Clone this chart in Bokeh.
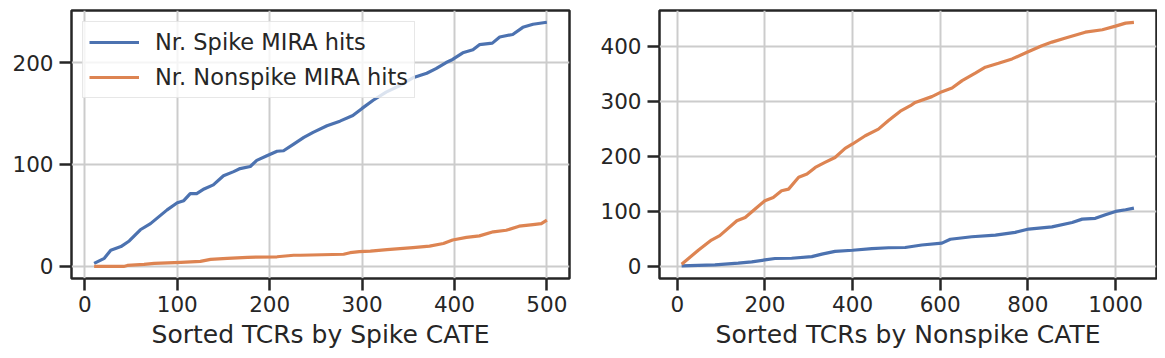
from bokeh.plotting import figure
from bokeh.layouts import row
from bokeh.models import Range1d, FixedTicker, Legend, LegendItem
from bokeh.embed import file_html
from bokeh.resources import INLINE

# ---- data ----
left_spike_x = [10, 21, 28, 39, 48, 60, 71, 89, 100, 107, 114, 121, 129, 139, 150, 161, 168, 179, 186, 197,
                208, 215, 226, 237, 247, 262, 276, 290, 300, 312, 326, 341, 355, 370, 380, 391, 398, 409,
                420, 427, 441, 449, 463, 474, 485, 500]
left_spike_y = [3, 8, 16, 19.5, 25, 36, 42, 55.5, 62.5, 64.5, 71.5, 71.5, 76, 80, 89, 93, 96, 98, 104, 108.5,
                113, 113.5, 120, 126.5, 131.5, 138, 142.5, 148, 155, 163, 171, 177.5, 185, 189.5, 194, 200,
                203, 209.5, 212.5, 217.5, 219, 225, 227.5, 234.5, 237.5, 239.5]
left_nonspike_x = [10, 42, 46, 64, 75, 104, 125, 136, 154, 176, 208, 226, 233, 280, 287, 297, 309, 327, 355,
                   373, 388, 398, 413, 427, 442, 456, 470, 485, 494, 500]
left_nonspike_y = [0, 0, 1, 2, 3, 4, 5, 7, 8, 9, 9.5, 11, 11, 12, 13.5, 14.5, 15, 16.5, 18.5, 20, 22.5, 26,
                   28.5, 30, 34, 35.5, 39.5, 41, 42, 45.5]

right_nonspike_x = [10, 48, 78, 97, 136, 155, 177, 200, 219, 238, 254, 277, 296, 315, 337, 360, 383, 400,
                    429, 459, 482, 509, 532, 543, 581, 604, 627, 650, 680, 703, 733, 764, 798, 832, 855,
                    886, 931, 970, 1000, 1023, 1042]
right_nonspike_y = [4, 29.5, 48, 56, 83, 89, 104, 119.5, 125.5, 137.5, 140.5, 162, 168, 180, 189, 198, 214.5,
                    222.5, 237.5, 249.5, 265, 282, 292, 298, 308.5, 317.5, 324, 337.5, 351, 362, 369, 377,
                    389, 401, 407.5, 415, 425.5, 430, 436.5, 442, 443.5]
right_spike_x = [10, 86, 139, 170, 200, 223, 261, 307, 330, 360, 400, 444, 482, 520, 558, 604, 623, 672,
                 726, 771, 802, 855, 901, 924, 954, 977, 1000, 1023, 1042]
right_spike_y = [1, 3, 6, 8.5, 12, 14.5, 15, 18, 22.5, 27.5, 29.5, 32.5, 34, 34.5, 39, 42.5, 49.5, 54, 57,
                 62, 68, 72, 80, 86, 87.5, 94, 100, 103, 106]

left_xticks = [0, 100, 200, 300, 400, 500]
left_yticks = [0, 100, 200]
right_xticks = [0, 200, 400, 600, 800, 1000]
right_yticks = [0, 100, 200, 300, 400]

BLUE = "#4c72b0"
ORANGE = "#dd8452"
DARK = "#262626"
FONT = "DejaVu Sans"


def style(p, xticks, yticks, xlabel):
    p.outline_line_color = DARK
    p.outline_line_width = 2.5
    p.background_fill_color = "white"
    p.border_fill_color = "white"
    p.xaxis.ticker = FixedTicker(ticks=xticks)
    p.yaxis.ticker = FixedTicker(ticks=yticks)
    for ax in (p.xaxis[0], p.yaxis[0]):
        ax.axis_line_color = None
        ax.major_tick_line_color = DARK
        ax.major_tick_line_width = 2.5
        ax.major_tick_out = 12
        ax.major_tick_in = 0
        ax.minor_tick_line_color = None
        ax.major_label_text_font = FONT
        ax.major_label_text_font_size = "21.5px"
        ax.major_label_text_color = DARK
    p.xaxis.major_label_standoff = 5
    p.yaxis.major_label_standoff = 6
    p.xaxis.axis_label = xlabel
    p.xaxis.axis_label_text_font = FONT
    p.xaxis.axis_label_text_font_size = "25px"
    p.xaxis.axis_label_text_font_style = "normal"
    p.xaxis.axis_label_text_color = DARK
    p.xaxis.axis_label_standoff = 5
    p.grid.grid_line_color = "#cccccc"
    p.grid.grid_line_width = 2


p1 = figure(frame_width=498, frame_height=268, output_backend="svg", toolbar_location=None,
            x_range=Range1d(-14.5, 524.5), y_range=Range1d(-11.8, 251.0),
            min_border_left=71, min_border_right=20, min_border_top=10, min_border_bottom=60)
style(p1, left_xticks, left_yticks, "Sorted TCRs by Spike CATE")
r1 = p1.line(left_spike_x, left_spike_y, line_color=BLUE, line_width=3.2, line_join="round")
r2 = p1.line(left_nonspike_x, left_nonspike_y, line_color=ORANGE, line_width=3.2, line_join="round")
legend = Legend(items=[LegendItem(label="Nr. Spike MIRA hits", renderers=[r1]),
                       LegendItem(label="Nr. Nonspike MIRA hits", renderers=[r2])],
                location="top_left", margin=11, padding=6, spacing=7,
                glyph_width=50, glyph_height=28, label_standoff=16,
                label_text_font=FONT, label_text_font_size="22.5px", label_text_color=DARK,
                border_line_color="#d0d0d0", border_line_width=1.5,
                background_fill_color="white", background_fill_alpha=0.8)
p1.add_layout(legend)

p2 = figure(frame_width=497, frame_height=268, output_backend="svg", toolbar_location=None,
            x_range=Range1d(-40.5, 1093.5), y_range=Range1d(-21.8, 464.9),
            min_border_left=70, min_border_right=1, min_border_top=10, min_border_bottom=60)
style(p2, right_xticks, right_yticks, "Sorted TCRs by Nonspike CATE")
p2.line(right_spike_x, right_spike_y, line_color=BLUE, line_width=3.2, line_join="round")
p2.line(right_nonspike_x, right_nonspike_y, line_color=ORANGE, line_width=3.2, line_join="round")

layout = row(p1, p2)
open("out.html", "w").write(file_html(layout, INLINE))
